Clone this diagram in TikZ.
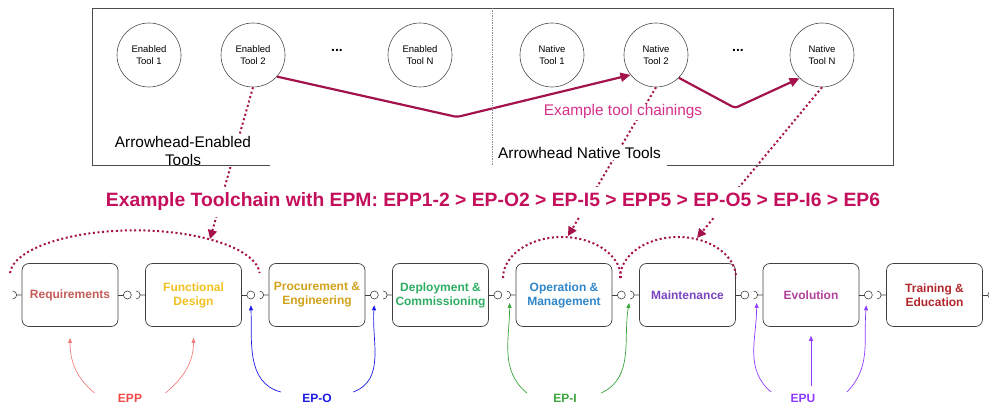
\documentclass[tikz,border=0pt]{standalone}
\usepackage{fontspec}
\setmainfont{Liberation Sans}
\usetikzlibrary{arrows.meta}

\definecolor{chain}{HTML}{A3124A}
\definecolor{head}{HTML}{C4105C}
\definecolor{chainlbl}{HTML}{D6318A}
\definecolor{reqc}{HTML}{C45C57}
\definecolor{fdc}{HTML}{F0C020}
\definecolor{pec}{HTML}{D1A21A}
\definecolor{dcc}{HTML}{2EAD63}
\definecolor{omc}{HTML}{2F86C9}
\definecolor{mtc}{HTML}{7B45C2}
\definecolor{evc}{HTML}{B0409A}
\definecolor{tec}{HTML}{B3262B}
\definecolor{eppc}{HTML}{F04848}
\definecolor{eppl}{HTML}{F08080}
\definecolor{epoc}{HTML}{1A1AE6}
\definecolor{epic}{HTML}{3BA53B}
\definecolor{epuc}{HTML}{8F3BFF}

\begin{document}
\begin{tikzpicture}[x=1pt,y=1pt,
    tool/.style={circle,draw=black!70,line width=0.6pt,minimum size=64pt,inner sep=0pt,align=center,font=\fontsize{9.5}{12}\selectfont},
    stage/.style={draw=black!75,rounded corners=7pt,line width=0.7pt,minimum width=96pt,minimum height=63pt,inner sep=1pt,align=center,font=\fontsize{12}{14}\selectfont\bfseries},
    port/.style={circle,draw=black!75,line width=0.6pt,minimum size=8pt,inner sep=0pt},
    wire/.style={draw=black!75,line width=0.6pt},
    dots/.style={font=\fontsize{14}{14}\selectfont\bfseries},
    link/.style={chain,line width=2.2pt,rounded corners=3pt,-{Triangle[length=10pt,width=9pt]}},
    hint/.style={chain,line width=2pt,dash pattern=on 2pt off 2.6pt,-{Triangle[length=9pt,width=9pt]}},
    span/.style={chain,line width=2pt,dash pattern=on 2pt off 2.6pt},
    note/.style={fill=white,inner sep=1pt,font=\fontsize{15.4}{18}\selectfont},
    eplbl/.style={font=\fontsize{12}{14}\selectfont\bfseries},
    ep/.style={line width=0.7pt,-{Triangle[length=5pt,width=4pt]}},
]
\useasboundingbox (0,0) rectangle (989,410);

% tools
\node[tool] (et1) at (149,355) {Enabled\\Tool 1};
\node[tool] (et2) at (253,355) {Enabled\\Tool 2};
\node[dots] (ed) at (337,360) {...};
\node[tool] (etn) at (420,355) {Enabled\\Tool N};
\node[tool] (nt1) at (552,355) {Native\\Tool 1};
\node[tool] (nt2) at (656,355) {Native\\Tool 2};
\node[dots] (nd) at (738,360) {...};
\node[tool] (ntn) at (822,355) {Native\\Tool N};

% chainings
\coordinate (m1) at (457,293);
\coordinate (m2) at (735,302);
\draw[link] (et2.-42) -- (m1) -- (nt2.218);
\draw[link] (nt2.-45) -- (m2) -- (ntn.226);

% stages
\node[stage,text=reqc] (s1) at (70,115) {Requirements};
\node[stage,text=fdc] (s2) at (193.5,115) {Functional\\Design};
\node[stage,text=pec] (s3) at (317,115) {Procurement \&\\Engineering};
\node[stage,text=dcc] (s4) at (440.5,115) {Deployment \&\\Commissioning};
\node[stage,text=omc] (s5) at (564,115) {Operation \&\\Management};
\node[stage,text=mtc] (s6) at (687.5,115) {Maintenance};
\node[stage,text=evc] (s7) at (811,115) {Evolution};
\node[stage,text=tec] (s8) at (934.5,115) {Training \&\\Education};

% provided ports
\node[port] (o1) at ([xshift=9pt]s1.east) {};
\node[port] (o2) at ([xshift=9pt]s2.east) {};
\node[port] (o3) at ([xshift=9pt]s3.east) {};
\node[port] (o4) at ([xshift=9pt]s4.east) {};
\node[port] (o5) at ([xshift=9pt]s5.east) {};
\node[port] (o6) at ([xshift=9pt]s6.east) {};
\node[port] (o7) at ([xshift=9pt]s7.east) {};
\node[port] (o8) at ([xshift=9pt]s8.east) {};
\draw[wire] (s1.east) -- (o1) (s2.east) -- (o2) (s3.east) -- (o3) (s4.east) -- (o4)
            (s5.east) -- (o5) (s6.east) -- (o6) (s7.east) -- (o7) (s8.east) -- (o8);

% required ports
\draw[wire] (s1.west) -- ++(-5pt,0) coordinate (k1) ++(-4pt,4pt) arc[start angle=90,end angle=-90,radius=4pt];
\draw[wire] (s2.west) -- ++(-5pt,0) coordinate (k2) ++(-4pt,4pt) arc[start angle=90,end angle=-90,radius=4pt];
\draw[wire] (s3.west) -- ++(-5pt,0) coordinate (k3) ++(-4pt,4pt) arc[start angle=90,end angle=-90,radius=4pt];
\draw[wire] (s4.west) -- ++(-5pt,0) coordinate (k4) ++(-4pt,4pt) arc[start angle=90,end angle=-90,radius=4pt];
\draw[wire] (s5.west) -- ++(-5pt,0) coordinate (k5) ++(-4pt,4pt) arc[start angle=90,end angle=-90,radius=4pt];
\draw[wire] (s6.west) -- ++(-5pt,0) coordinate (k6) ++(-4pt,4pt) arc[start angle=90,end angle=-90,radius=4pt];
\draw[wire] (s7.west) -- ++(-5pt,0) coordinate (k7) ++(-4pt,4pt) arc[start angle=90,end angle=-90,radius=4pt];
\draw[wire] (s8.west) -- ++(-5pt,0) coordinate (k8) ++(-4pt,4pt) arc[start angle=90,end angle=-90,radius=4pt];

% stage spans of the example tools
\draw[span] (10,137) arc[start angle=177,end angle=3,x radius=125pt,y radius=45pt];
\draw[span] (503,132) arc[start angle=180,end angle=0,x radius=59pt,y radius=41pt];
\draw[span] (620,132) arc[start angle=180,end angle=0,x radius=58pt,y radius=41pt];
\coordinate (h1) at (210,171);
\coordinate (h2) at (568,174);
\coordinate (h3) at (697,172);
\draw[hint] (et2.south) -- (h1);
\draw[hint] (nt2.south) -- (h2);
\draw[hint] (ntn.south) -- (h3);

% texts
\node[note,align=center] (ae) at (183,259) {Arrowhead-Enabled\\Tools};
\node[note,anchor=west] (an) at (497,257) {Arrowhead Native Tools};
\node[note,text=chainlbl] (ec) at (623,298) {Example tool chainings};
\node[fill=white,inner xsep=2pt,inner ysep=6pt,text=head,font=\fontsize{19.3}{22}\selectfont\bfseries] (hd) at (493,208)
    {Example Toolchain with EPM: EPP1-2 > EP-O2 > EP-I5 > EPP5 > EP-O5 > EP-I6 > EP6};

% frame
\draw[black!70,line width=0.8pt] (270,245) -| (92,402) -| (893,245) -- (667,245);
\draw[black!45,line width=0.7pt,densely dotted] (492,402) -- (492,245);

% endpoint groups
\node[eplbl,text=eppc] (epp) at (130,12) {EPP};
\node[eplbl,text=epoc] (epo) at (317,12) {EP-O};
\node[eplbl,text=epic] (epi) at (565,12) {EP-I};
\node[eplbl,text=epuc] (epu) at (803,12) {EPU};

\draw[ep,eppl] ([xshift=-20pt,yshift=5pt]epp.west) to[out=140,in=-90] ([yshift=-11pt]s1.south);
\draw[ep,eppl] ([xshift=20pt,yshift=5pt]epp.east) to[out=40,in=-90] ([yshift=-11pt]s2.south);
\draw[ep,epoc] ([xshift=-18pt,yshift=6pt]epo.west) to[out=165,in=-88] ([yshift=-6pt]o2.south);
\draw[ep,epoc] ([xshift=18pt,yshift=6pt]epo.east) to[out=20,in=-95] ([yshift=-6pt]o3.south);
\draw[ep,epic] ([xshift=-23pt,yshift=5pt]epi.west) to[out=140,in=-90] ([xshift=-1pt,yshift=-8pt]k5);
\draw[ep,epic] ([xshift=21pt,yshift=5pt]epi.east) to[out=25,in=-100] ([xshift=-5pt,yshift=-8pt]k6);
\draw[ep,epuc] ([xshift=-16pt,yshift=6pt]epu.west) to[out=140,in=-90] ([xshift=-1pt,yshift=-8pt]k7);
\draw[ep,epuc] ([xshift=8pt,yshift=4pt]epu.north) -- ([yshift=-9pt]s7.south);
\draw[ep,epuc] ([xshift=28pt,yshift=6pt]epu.east) to[out=45,in=-95] ([xshift=-2pt,yshift=-6pt]o7.south);
\end{tikzpicture}
\end{document}
